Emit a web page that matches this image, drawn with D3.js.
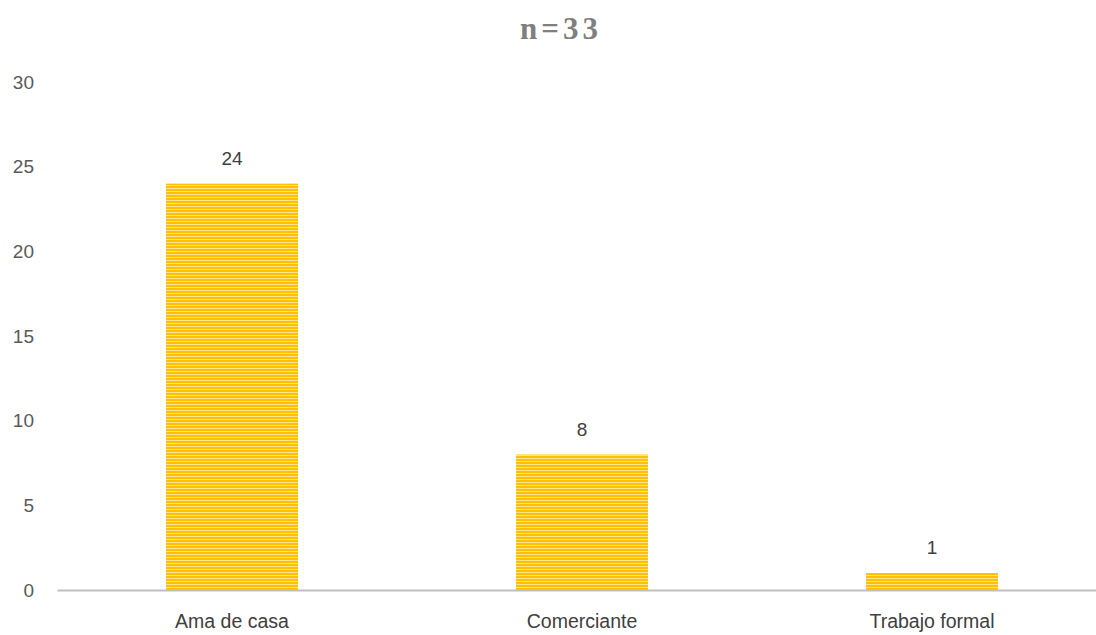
<!DOCTYPE html>
<html>
<head>
<meta charset="utf-8">
<script src="https://cdn.jsdelivr.net/npm/d3@7"></script>
<style>
  html, body { margin: 0; padding: 0; background: #fff; }
  svg { display: block; }
</style>
</head>
<body>
<svg id="chart" width="1096" height="635"></svg>
<script>
// Occupation counts (n = 33)
const categories = ["Ama de casa", "Comerciante", "Trabajo formal"];
const counts = [24, 8, 1];
const yTicks = [0, 5, 10, 15, 20, 25, 30];
const titleText = "n=33";

const W = 1096, H = 635;
const margin = { left: 57, right: -11, top: 82, bottom: 45 };
const sans = "Liberation Sans, Arial, sans-serif";

const svg = d3.select("#chart");

// Horizontal gold stripe fill for the bars
const defs = svg.append("defs");
const pat = defs.append("pattern")
  .attr("id", "stripes")
  .attr("patternUnits", "userSpaceOnUse")
  .attr("width", 8).attr("height", 3);
pat.append("rect").attr("width", 8).attr("height", 3).attr("fill", "#FFC000");
pat.append("rect").attr("y", 2).attr("width", 8).attr("height", 1).attr("fill", "#FFE28A");

const x = d3.scaleBand()
  .domain(categories)
  .range([margin.left, W - margin.right])
  .paddingInner(0.623)
  .paddingOuter(0.3115);

const y = d3.scaleLinear()
  .domain([0, 30])
  .range([H - margin.bottom, margin.top]);

// Title
svg.append("text")
  .attr("x", 561).attr("y", 39)
  .attr("text-anchor", "middle")
  .attr("font-family", "Liberation Serif, serif")
  .attr("font-weight", "bold")
  .attr("font-size", 31)
  .attr("letter-spacing", 4)
  .attr("fill", "#7F7F7F")
  .text(titleText);

// Y axis labels (no axis line, no gridlines)
const yAxis = d3.axisLeft(y).tickValues(yTicks).tickSize(0).tickPadding(0);
const yg = svg.append("g")
  .attr("transform", `translate(34,0)`)
  .call(yAxis);
yg.select(".domain").remove();
yg.selectAll("text")
  .attr("font-family", sans)
  .attr("font-size", 19)
  .attr("fill", "#595959");

// Bars
svg.append("g").selectAll("rect")
  .data(counts)
  .join("rect")
  .attr("x", (d, i) => x(categories[i]))
  .attr("width", x.bandwidth())
  .attr("y", d => y(d))
  .attr("height", d => y(0) - y(d))
  .attr("fill", "url(#stripes)");

// Value labels
svg.append("g").selectAll("text")
  .data(counts)
  .join("text")
  .attr("x", (d, i) => x(categories[i]) + x.bandwidth() / 2)
  .attr("y", d => y(d) - 19)
  .attr("text-anchor", "middle")
  .attr("font-family", sans)
  .attr("font-size", 19)
  .attr("fill", "#404040")
  .text(d => d);

// X axis baseline and category labels
const xAxis = d3.axisBottom(x).tickSize(0);
const xg = svg.append("g")
  .attr("transform", `translate(0,${y(0)})`)
  .call(xAxis);
xg.select(".domain")
  .attr("stroke", "#BFBFBF")
  .attr("stroke-width", 2);
xg.selectAll("text")
  .attr("y", 38)
  .attr("dy", null)
  .attr("font-family", sans)
  .attr("font-size", 19.5)
  .attr("fill", "#404040");
</script>
</body>
</html>
